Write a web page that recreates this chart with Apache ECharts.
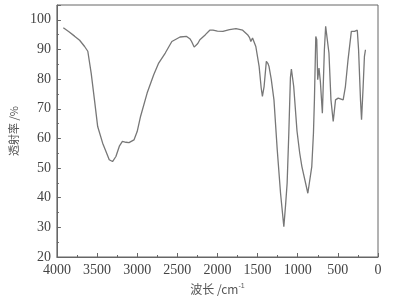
<!DOCTYPE html>
<html><head><meta charset="utf-8">
<script src="https://cdn.jsdelivr.net/npm/echarts@6/dist/echarts.min.js"></script>
<style>html,body{margin:0;padding:0;background:#fff}#c{width:404px;height:305px}</style>
</head><body><div id="c"></div>
<script>
const wavenumbers = [3920,3850,3780,3717,3655,3615,3573,3532,3492,3430,3380,3348,3307,3265,3220,3184,3140,3102,3040,3000,2958,2876,2794,2732,2650,2568,2466,2384,2340,2322,2290,2273,2245,2219,2150,2096,2055,2000,1932,1850,1769,1686,1625,1600,1584,1563,1522,1481,1455,1440,1419,1391,1370,1358,1330,1296,1255,1214,1173,1150,1132,1111,1091,1079,1050,1009,975,948,874,825,804,792,775,763,751,735,718,693,668,652,628,611,586,558,529,496,434,406,373,332,292,258,242,218,205,185,169,156];
const transmittance = [97.3,96.0,94.5,93.1,91.0,89.4,82.0,73.0,64.0,58.4,55.0,52.8,52.2,53.9,57.5,59.0,58.7,58.6,59.5,62.3,67.4,75.3,81.5,85.4,88.8,92.7,94.2,94.4,93.5,92.7,90.8,90.2,92.0,93.3,95.0,96.5,96.5,96.2,96.1,96.7,97.0,96.5,95.0,94.0,92.7,93.9,91.0,84.3,77.0,74.2,77.5,86.0,85.2,84.3,80.0,73.0,56.1,41.5,30.2,38.0,44.9,61.8,80.5,83.4,77.5,62.5,55.0,50.5,41.5,50.5,61.8,73.0,94.4,93.3,79.8,83.7,79.2,68.5,89.9,97.8,97.8,88.8,73.0,65.7,73.0,73.6,73.0,77.5,86.6,96.1,96.1,96.5,89.9,73.0,66.3,77.5,87.7,89.9];
const xTicks = [0,500,1000,1500,2000,2500,3000,3500,4000];
const yTicks = [20,30,40,50,60,70,80,90,100];

const chart = echarts.init(document.getElementById('c'));
const serif = '"Liberation Serif","Times New Roman",serif';
chart.setOption({
  animation:false,
  grid:{left:52,right:26,top:5,bottom:48,show:true,borderColor:'#666',borderWidth:1,backgroundColor:'transparent'},
  xAxis:{type:'value',inverse:true,min:0,max:4000,interval:500,position:'bottom',
    name:'{a|波长 /cm}{b|-1}',nameLocation:'middle',nameGap:26,
    nameTextStyle:{rich:{a:{fontFamily:'"Noto Sans CJK SC",'+serif,fontSize:12,color:'#555'},b:{fontSize:7,color:'#555',verticalAlign:'top',padding:[0,0,6,0]}}},
    axisLine:{onZero:false,lineStyle:{color:'#666'}},
    axisTick:{inside:true,length:4,lineStyle:{color:'#666'}},
    minorTick:{show:true,splitNumber:2,length:2,lineStyle:{color:'#666'}},
    splitLine:{show:false},
    axisLabel:{fontFamily:serif,fontSize:14,color:'#444',margin:6,
      formatter:v=>xTicks.includes(v)?String(v):''}},
  yAxis:{type:'value',min:20,max:105,interval:10,position:'left',
    name:'透射率 /%',nameLocation:'middle',nameGap:34,nameRotate:90,
    nameTextStyle:{fontFamily:'"Noto Sans CJK SC",sans-serif',fontSize:11,color:'#555'},
    axisLine:{onZero:false,lineStyle:{color:'#666'}},
    axisTick:{inside:true,length:4,lineStyle:{color:'#666'}},
    minorTick:{show:true,splitNumber:2,length:2,lineStyle:{color:'#666'}},
    splitLine:{show:false},
    axisLabel:{fontFamily:serif,fontSize:14,color:'#444',margin:6,showMaxLabel:false,
      formatter:v=>yTicks.includes(v)?String(v):''}},
  series:[{type:'line',showSymbol:false,
    data:wavenumbers.map((w,i)=>[w,transmittance[i]]),
    lineStyle:{color:'#777',width:1.3}}]
});
</script></body></html>
